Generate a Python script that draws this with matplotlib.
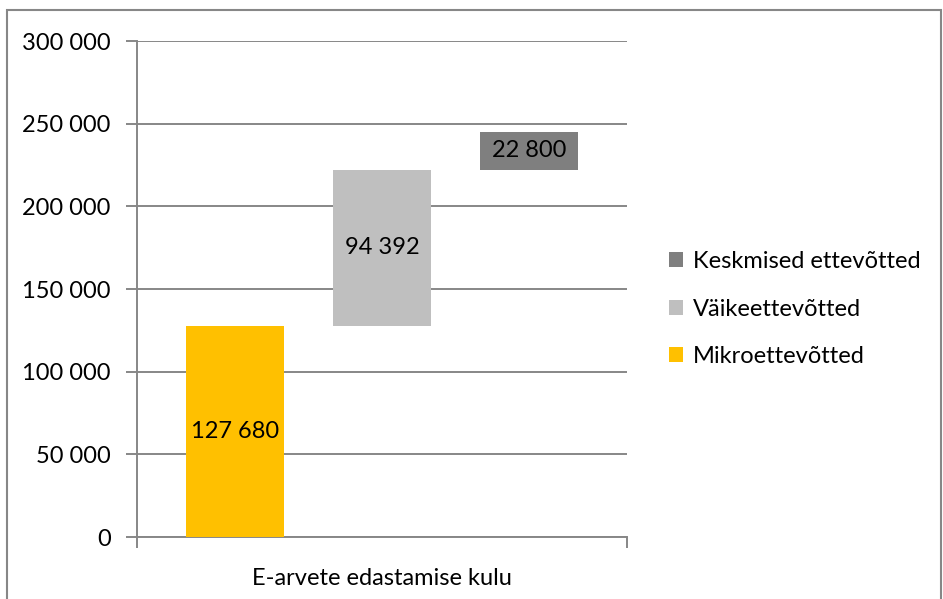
import matplotlib
matplotlib.use("Agg")
import matplotlib.pyplot as plt
from matplotlib.patches import Rectangle, Patch
from matplotlib.ticker import FuncFormatter, MultipleLocator

# data
category = "E-arvete edastamise kulu"
series = ["Mikroettevõtted", "Väikeettevõtted", "Keskmised ettevõtted"]
values = [127680, 94392, 22800]
colors = ["#FFC000", "#BFBFBF", "#7F7F7F"]

plt.rcParams['font.family'] = ['Lato', 'DejaVu Sans']
FS = 17
GRID = "#878787"

fig = plt.figure(figsize=(9.43, 5.99), dpi=100)
ax = fig.add_axes([137 / 943, 1 - 537 / 599, 490 / 943, (537 - 41) / 599])

bottom = 0
for i, (name, v, c) in enumerate(zip(series, values, colors)):
    ax.bar(i, v, bottom=bottom, width=0.667, color=c, zorder=3)
    ax.text(i, bottom + v / 2, f"{v:,}".replace(",", " "), ha="center", va="center",
            fontsize=FS, color="black", zorder=4)
    bottom += v

ax.set_xlim(-0.667, 2.667)
ax.set_ylim(0, 300000)
ax.yaxis.set_major_locator(MultipleLocator(50000))
ax.yaxis.set_major_formatter(FuncFormatter(lambda v, p: f"{int(v):,}".replace(",", " ")))
ax.grid(axis="y", color=GRID, linewidth=1.4, zorder=0)
ax.tick_params(axis="y", length=8, width=1.4, color=GRID, labelsize=FS, pad=11)
ax.set_xticks([-0.667, 2.667])
ax.set_xticklabels(["", ""])
ax.tick_params(axis="x", length=8, width=1.4, color=GRID)
for s in ["top", "right"]:
    ax.spines[s].set_visible(False)
for s in ["left", "bottom"]:
    ax.spines[s].set_color(GRID)
    ax.spines[s].set_linewidth(1.4)
ax.text(1, -0.083, category, transform=ax.get_xaxis_transform(), ha="center", va="center",
        fontsize=FS)

handles = [Patch(facecolor=c, label=n) for n, c in zip(series, colors)][::-1]
fig.legend(handles=handles, loc="center left", bbox_to_anchor=(648 / 943, 1 - 309 / 599),
           frameon=False, fontsize=FS, handlelength=0.6, handleheight=0.6,
           handletextpad=0.4, labelspacing=1.12)

fig.patches.append(Rectangle((7 / 943, -0.1), 934 / 943, 1.1 - 10 / 599, transform=fig.transFigure,
                             fill=False, edgecolor=GRID, linewidth=1.5))

fig.savefig("out.png", dpi=100)
